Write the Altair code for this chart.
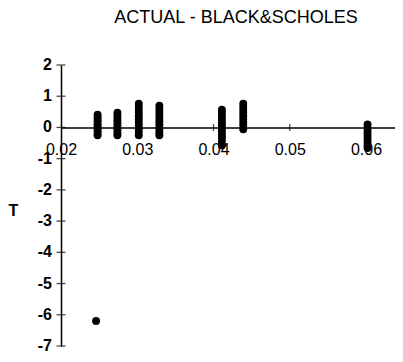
import altair as alt
import pandas as pd

# cluster x positions and their T values
c1_x = 0.0248
c1_y = [0.41, 0.33, 0.25, 0.18, 0.1, 0.03, -0.04, -0.11, -0.18, -0.25]
c2_x = 0.0274
c2_y = [0.47, 0.38, 0.3, 0.22, 0.14, 0.06, -0.02, -0.1, -0.18, -0.25]
c3_x = 0.0302
c3_y = [0.76, 0.66, 0.56, 0.46, 0.36, 0.26, 0.16, 0.06, -0.04, -0.14, -0.25]
c4_x = 0.0329
c4_y = [0.7, 0.6, 0.5, 0.4, 0.3, 0.2, 0.1, 0.0, -0.1, -0.18, -0.25]
c5_x = 0.0411
c5_y = [0.57, 0.47, 0.37, 0.27, 0.17, 0.07, -0.03, -0.13, -0.23, -0.33, -0.45, -0.57]
c6_x = 0.0439
c6_y = [0.76, 0.66, 0.56, 0.46, 0.36, 0.26, 0.16, 0.06, -0.06]
c7_x = 0.0602
c7_y = [0.1, 0.0, -0.1, -0.2, -0.3, -0.4, -0.5, -0.58, -0.66]
outlier_x = [0.0246]
outlier_y = [-6.2]

x_ticks = [0.02, 0.03, 0.04, 0.05, 0.06]
y_ticks = [2, 1, 0, -1, -2, -3, -4, -5, -6, -7]

rows = []
for cx, ys in [(c1_x, c1_y), (c2_x, c2_y), (c3_x, c3_y), (c4_x, c4_y),
               (c5_x, c5_y), (c6_x, c6_y), (c7_x, c7_y)]:
    for v in ys:
        rows.append({"x": cx, "T": v})
for a, b in zip(outlier_x, outlier_y):
    rows.append({"x": a, "T": b})
df = pd.DataFrame(rows)

FONT = "Liberation Sans"
H = 281
W = 334

xscale = alt.Scale(domain=[0.02, 0.0638], nice=False, zero=False)
yscale = alt.Scale(domain=[-7, 2], nice=False, zero=False)

points = alt.Chart(df).mark_circle(size=62, color="black", opacity=1).encode(
    x=alt.X("x:Q", scale=xscale,
            axis=alt.Axis(orient="bottom", offset=-(7 / 9) * H, values=x_ticks,
                          format=".2f", ticks=False, grid=False,
                          domainColor="black", domainWidth=1.5,
                          labelPadding=14, labelFontSize=16, labelFont=FONT,
                          labelColor="black", labelFlush=False,
                          labelOverlap=False, title=None)),
    y=alt.Y("T:Q", scale=yscale,
            axis=alt.Axis(values=y_ticks, ticks=False, grid=False, labels=False,
                          domainColor="black", domainWidth=1.5,
                          title="T", titleAngle=0, titleX=-48, titleY=145,
                          titleFontSize=16, titleFont=FONT,
                          titleFontWeight="bold", titleColor="black",
                          titleAlign="center", titleBaseline="middle")),
)

ytick_df = pd.DataFrame({"t": y_ticks, "x0": [0.02] * len(y_ticks),
                         "lab": [str(v) for v in y_ticks]})
yticks = alt.Chart(ytick_df).mark_tick(orient="horizontal", size=9, thickness=1.3,
                                       color="black").encode(
    x=alt.X("x0:Q", scale=xscale),
    y=alt.Y("t:Q", scale=yscale),
)
ylabels = alt.Chart(ytick_df).mark_text(align="right", baseline="middle", dx=-9,
                                        fontSize=16, fontWeight="bold", font=FONT,
                                        color="black").encode(
    x=alt.X("x0:Q", scale=xscale),
    y=alt.Y("t:Q", scale=yscale),
    text="lab:N",
)

xtick_df = pd.DataFrame({"t": x_ticks[1:], "y0": [0] * (len(x_ticks) - 1)})
xticks = alt.Chart(xtick_df).mark_tick(orient="vertical", size=7, thickness=1.3,
                                       color="black").encode(
    x=alt.X("t:Q", scale=xscale),
    y=alt.Y("y0:Q", scale=yscale),
)

chart = alt.layer(points, yticks, ylabels, xticks).properties(
    width=W, height=H,
    autosize=alt.AutoSizeParams(type="none"),
    padding={"left": 53, "top": 57, "right": 0, "bottom": 8},
    title=alt.TitleParams("ACTUAL - BLACK&SCHOLES", anchor="middle", frame="group",
                          offset=30, fontSize=18, font=FONT, fontWeight="normal",
                          color="black", dx=8),
).configure_view(stroke=None)

chart.save("out.html", embed_options={"renderer": "svg", "actions": False})
